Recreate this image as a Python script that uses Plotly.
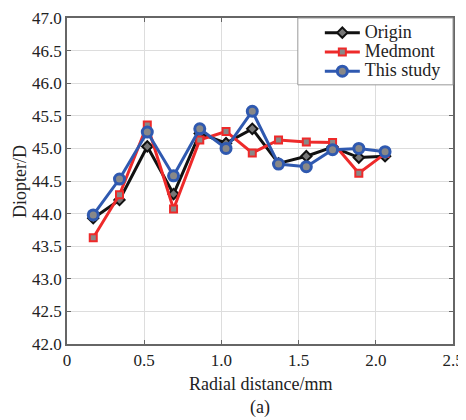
import plotly.graph_objects as go

radial = [0.17, 0.34, 0.52, 0.69, 0.86, 1.03, 1.20, 1.37, 1.55, 1.72, 1.89, 2.06]
origin = [43.93, 44.21, 45.03, 44.30, 45.23, 45.08, 45.30, 44.77, 44.88, 45.02, 44.86, 44.88]
medmont = [43.63, 44.29, 45.36, 44.07, 45.13, 45.26, 44.93, 45.13, 45.10, 45.09, 44.62, 44.92]
this_study = [43.98, 44.53, 45.25, 44.58, 45.30, 45.00, 45.57, 44.76, 44.72, 44.98, 45.00, 44.95]
series_names = ["Origin", "Medmont", "This study"]

x_ticks = [0, 0.5, 1.0, 1.5, 2.0, 2.5]
x_labels = ["0", "0.5", "1.0", "1.5", "2.0", "2.5"]
y_ticks = [42.0, 42.5, 43.0, 43.5, 44.0, 44.5, 45.0, 45.5, 46.0, 46.5, 47.0]
y_labels = [f"{v:.1f}" for v in y_ticks]

FONT = "Liberation Serif"
TXT = "#222222"


def legend_name(s):
    # larger text than the legend row height so rows sit close together
    return f"<span style='font-size:18px'>{s}</span>"


fig = go.Figure()
fig.add_trace(go.Scatter(
    x=radial, y=origin, name=legend_name(series_names[0]), mode="lines+markers",
    line=dict(color="#111111", width=3),
    marker=dict(symbol="diamond", size=8, color="#777777",
                line=dict(color="#111111", width=2))))
fig.add_trace(go.Scatter(
    x=radial, y=medmont, name=legend_name(series_names[1]), mode="lines+markers",
    line=dict(color="#ee2a2a", width=3),
    marker=dict(symbol="square", size=7, color="#888888",
                line=dict(color="#ee2a2a", width=2))))
fig.add_trace(go.Scatter(
    x=radial, y=this_study, name=legend_name(series_names[2]), mode="lines+markers",
    line=dict(color="#2f59b0", width=3),
    marker=dict(symbol="circle", size=10, color="#888888",
                line=dict(color="#2f59b0", width=3))))

axis_common = dict(
    showline=True, linecolor="#666666", linewidth=1.5, mirror="ticks",
    ticks="inside", ticklen=4, tickcolor="#666666",
    showgrid=True, gridcolor="#dddddd", gridwidth=1, zeroline=False,
    tickfont=dict(family=FONT, size=17, color=TXT), automargin=False,
    ticklabeloverflow="allow",
)

# page body has an 8px margin; size/margins compensate for it
fig.update_layout(
    width=458, height=412,
    margin=dict(l=59, r=13, t=10, b=76, autoexpand=False),
    paper_bgcolor="white", plot_bgcolor="white",
    font=dict(family=FONT, color=TXT),
    showlegend=True,
    legend=dict(x=0.655, y=1.0, xanchor="left", yanchor="top",
                bgcolor="rgba(0,0,0,0)", borderwidth=0,
                font=dict(family=FONT, size=12.5, color=TXT),
                tracegroupgap=0, itemwidth=35),
    xaxis=dict(range=[0, 2.5], tickvals=x_ticks, ticktext=x_labels, **axis_common),
    yaxis=dict(range=[42, 47], tickvals=y_ticks, ticktext=y_labels, **axis_common),
    shapes=[dict(type="rect", xref="paper", yref="paper",
                 x0=0.598, x1=1.0, y0=0.795, y1=1.0,
                 fillcolor="white", line=dict(color="#999999", width=1),
                 layer="above")],
    annotations=[
        dict(text="Radial distance/mm", x=0.5, y=-0.124, xref="paper", yref="paper",
             xanchor="center", yanchor="middle", showarrow=False,
             font=dict(family=FONT, size=18, color=TXT)),
        dict(text="(a)", x=0.5, y=-0.194, xref="paper", yref="paper",
             xanchor="center", yanchor="middle", showarrow=False,
             font=dict(family=FONT, size=18, color=TXT)),
        dict(text="Diopter/D", x=-0.122, y=0.5, xref="paper", yref="paper",
             xanchor="center", yanchor="middle", textangle=-90, showarrow=False,
             font=dict(family=FONT, size=18, color=TXT)),
    ],
)

fig.write_html("out.html")
